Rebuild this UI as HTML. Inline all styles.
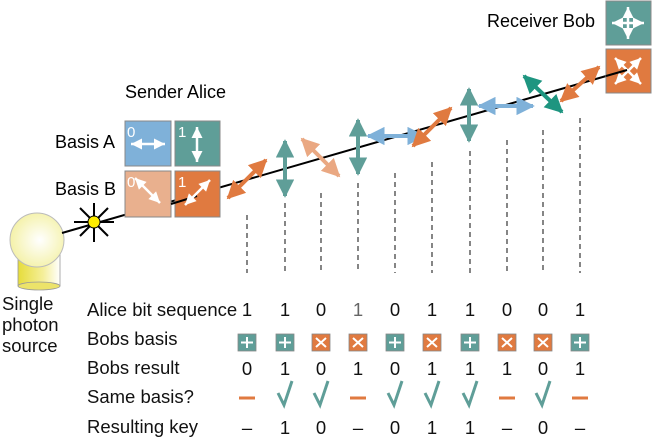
<!DOCTYPE html>
<html><head><meta charset="utf-8"><style>
html,body{margin:0;padding:0;background:#fff;}
svg{display:block;font-family:"Liberation Sans",sans-serif;}
</style></head><body>
<svg width="652" height="437" viewBox="0 0 652 437" xmlns="http://www.w3.org/2000/svg">
<defs>
<marker id="ah" viewBox="0 0 10 10" refX="9" refY="5" markerWidth="4.6" markerHeight="4.6" orient="auto-start-reverse"><path d="M0,0 L10,5 L0,10 z" fill="context-stroke"/></marker>
<marker id="aw" viewBox="0 0 10 10" refX="10" refY="5" markerWidth="4.4" markerHeight="4.4" orient="auto-start-reverse"><path d="M0,0 L10,5 L0,10 z" fill="#fff"/></marker>
<radialGradient id="bulb" cx="0.55" cy="0.5" r="0.6"><stop offset="0" stop-color="#ffffff"/><stop offset="1" stop-color="#f3f0a0"/></radialGradient>
<linearGradient id="cyl" x1="0" x2="1"><stop offset="0" stop-color="#e6dc3a"/><stop offset="0.6" stop-color="#f5ef9a"/><stop offset="1" stop-color="#ffffff"/></linearGradient>
</defs>

<rect x="18" y="250" width="42" height="36" fill="url(#cyl)" stroke="#999" stroke-width="0.8"/>
<ellipse cx="39" cy="286" rx="21" ry="4" fill="#ece36a" stroke="#999" stroke-width="0.8"/>
<circle cx="37" cy="240" r="27" fill="url(#bulb)" stroke="#bbb" stroke-width="1"/>

<line x1="62" y1="233" x2="627" y2="70" stroke="#000" stroke-width="2"/>

<g stroke="#000" stroke-width="2">
<line x1="94" y1="203" x2="94" y2="242"/><line x1="74" y1="222" x2="114" y2="222"/>
<line x1="80" y1="208" x2="108" y2="236"/><line x1="108" y1="208" x2="80" y2="236"/>
</g>
<circle cx="94" cy="222" r="6" fill="#ffee00" stroke="#000" stroke-width="1"/>

<text x="125" y="98" font-size="18">Sender Alice</text>
<text x="55" y="148" font-size="18">Basis A</text>
<text x="55" y="195" font-size="18">Basis B</text>
<rect x="125" y="121" width="46" height="45" fill="#7fb1d9" stroke="#888"/>
<rect x="175" y="121" width="45" height="45" fill="#5f9e98" stroke="#888"/>
<rect x="125" y="171" width="46" height="46" fill="#e9b08e" stroke="#888"/>
<rect x="175" y="171" width="45" height="46" fill="#e07a40" stroke="#888"/>
<line x1="171" y1="204" x2="197" y2="196" stroke="#000" stroke-width="2"/>
<g fill="#fff" font-size="15"><text x="127" y="137">0</text><text x="178" y="137">1</text><text x="127" y="187">0</text><text x="178" y="187">1</text></g>
<g stroke="#fff" stroke-width="2.5" marker-start="url(#aw)" marker-end="url(#aw)">
<line x1="131" y1="144" x2="165" y2="144"/>
<line x1="197" y1="127" x2="197" y2="162"/>
<line x1="135" y1="178" x2="160" y2="203"/>
<line x1="185" y1="205" x2="210" y2="180"/>
</g>

<text x="487" y="27" font-size="18">Receiver Bob</text>
<rect x="606" y="1" width="45" height="44" fill="#5f9e98" stroke="#888"/>
<rect x="606" y="49" width="45" height="44" fill="#e07a40" stroke="#888"/>
<g stroke="#fff" stroke-width="2.5" marker-start="url(#aw)" marker-end="url(#aw)">
<line x1="628" y1="7" x2="628" y2="39"/><line x1="612" y1="23" x2="644" y2="23"/>
<line x1="615" y1="58" x2="641" y2="84"/><line x1="641" y1="58" x2="615" y2="84"/>
</g>
<line x1="606" y1="76" x2="627" y2="70" stroke="#000" stroke-width="2"/>

<g stroke="#444" stroke-width="1.3" stroke-dasharray="5,4">
<line x1="247" y1="215" x2="247" y2="273"/>
<line x1="285" y1="203" x2="285" y2="273"/>
<line x1="321" y1="193" x2="321" y2="273"/>
<line x1="358" y1="183" x2="358" y2="273"/>
<line x1="395" y1="173" x2="395" y2="273"/>
<line x1="432" y1="162" x2="432" y2="273"/>
<line x1="470" y1="151" x2="470" y2="273"/>
<line x1="507" y1="140" x2="507" y2="273"/>
<line x1="543" y1="130" x2="543" y2="273"/>
<line x1="580" y1="118" x2="580" y2="273"/>
</g>

<g stroke-width="4" marker-start="url(#ah)" marker-end="url(#ah)">
<line x1="228" y1="198" x2="266" y2="160" stroke="#e07a40"/>
<line x1="285" y1="141" x2="285" y2="196" stroke="#5f9e98"/>
<line x1="302" y1="139" x2="339" y2="176" stroke="#eaa882"/>
<line x1="358" y1="120" x2="358" y2="174" stroke="#5f9e98"/>
<line x1="368" y1="136" x2="424" y2="136" stroke="#7fb1d9"/>
<line x1="413" y1="146" x2="451" y2="108" stroke="#e07a40"/>
<line x1="469" y1="89" x2="469" y2="141" stroke="#5f9e98"/>
<line x1="479" y1="106" x2="533" y2="106" stroke="#7fb1d9"/>
<line x1="524" y1="76" x2="562" y2="112" stroke="#1e9580"/>
<line x1="561" y1="101" x2="599" y2="67" stroke="#e07a40"/>
</g>

<g font-size="18.5" fill="#111">
<text x="2" y="310">Single</text>
<text x="2" y="331">photon</text>
<text x="2" y="352">source</text>
<text x="87" y="316">Alice bit sequence</text>
<text x="87" y="345">Bobs basis</text>
<text x="87" y="374">Bobs result</text>
<text x="87" y="403">Same basis?</text>
<text x="87" y="433">Resulting key</text>
</g>

<g font-size="18.5" fill="#111" text-anchor="middle">
<text x="247" y="316">1</text><text x="285" y="316">1</text><text x="321" y="316">0</text><text x="358" y="316" fill="#666">1</text><text x="395" y="316">0</text><text x="432" y="316">1</text><text x="470" y="316">1</text><text x="507" y="316">0</text><text x="543" y="316">0</text><text x="580" y="316">1</text>
<text x="247" y="375">0</text><text x="285" y="375">1</text><text x="321" y="375">0</text><text x="358" y="375">1</text><text x="395" y="375">0</text><text x="432" y="375">1</text><text x="470" y="375">1</text><text x="507" y="375">1</text><text x="543" y="375">0</text><text x="580" y="375">1</text>
<text x="247" y="434">–</text><text x="285" y="434">1</text><text x="321" y="434">0</text><text x="358" y="434">–</text><text x="395" y="434">0</text><text x="432" y="434">1</text><text x="470" y="434">1</text><text x="507" y="434">–</text><text x="543" y="434">0</text><text x="580" y="434">–</text>
</g>

<g stroke="#fff" stroke-width="2">
<rect x="238" y="334" width="18" height="17" fill="#5f9e98" stroke="#888" stroke-width="0.8"/><path d="M241,342.5h12M247,337v11"/>
<rect x="276" y="334" width="18" height="17" fill="#5f9e98" stroke="#888" stroke-width="0.8"/><path d="M279,342.5h12M285,337v11"/>
<rect x="312" y="334" width="18" height="17" fill="#e07a40" stroke="#888" stroke-width="0.8"/><path d="M316,338l10,9M326,338l-10,9"/>
<rect x="349" y="334" width="18" height="17" fill="#e07a40" stroke="#888" stroke-width="0.8"/><path d="M353,338l10,9M363,338l-10,9"/>
<rect x="386" y="334" width="18" height="17" fill="#5f9e98" stroke="#888" stroke-width="0.8"/><path d="M389,342.5h12M395,337v11"/>
<rect x="423" y="334" width="18" height="17" fill="#e07a40" stroke="#888" stroke-width="0.8"/><path d="M427,338l10,9M437,338l-10,9"/>
<rect x="461" y="334" width="18" height="17" fill="#5f9e98" stroke="#888" stroke-width="0.8"/><path d="M464,342.5h12M470,337v11"/>
<rect x="498" y="334" width="18" height="17" fill="#e07a40" stroke="#888" stroke-width="0.8"/><path d="M502,338l10,9M512,338l-10,9"/>
<rect x="534" y="334" width="18" height="17" fill="#e07a40" stroke="#888" stroke-width="0.8"/><path d="M538,338l10,9M548,338l-10,9"/>
<rect x="571" y="334" width="18" height="17" fill="#5f9e98" stroke="#888" stroke-width="0.8"/><path d="M574,342.5h12M580,337v11"/>
</g>

<g stroke="#e07a40" stroke-width="3">
<line x1="239" y1="398" x2="255" y2="398"/>
<line x1="350" y1="398" x2="366" y2="398"/>
<line x1="499" y1="398" x2="515" y2="398"/>
<line x1="572" y1="398" x2="588" y2="398"/>
</g>
<g stroke="#5f9e98" stroke-width="3" fill="none">
<path d="M278,393 L284,405 L292,381"/>
<path d="M314,393 L320,405 L328,381"/>
<path d="M388,393 L394,405 L402,381"/>
<path d="M425,393 L431,405 L439,381"/>
<path d="M463,393 L469,405 L477,381"/>
<path d="M536,393 L542,405 L550,381"/>
</g>
</svg>
</body></html>
